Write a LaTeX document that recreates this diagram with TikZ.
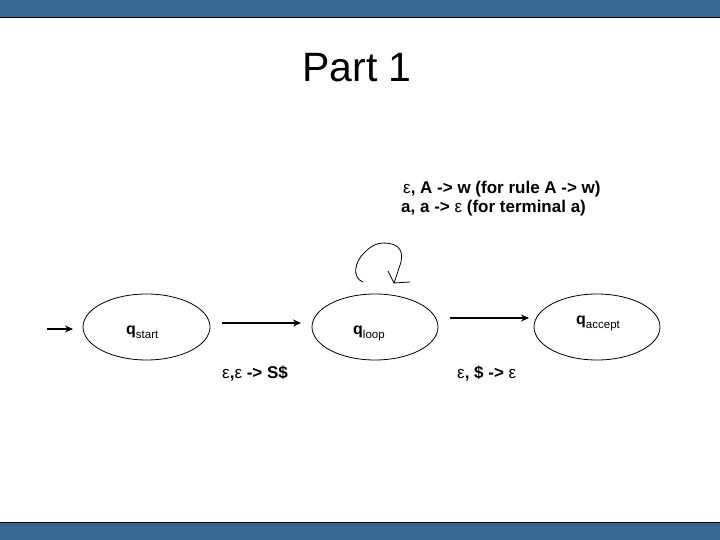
\documentclass[tikz,border=0pt]{standalone}
\usepackage{fontspec}
\setmainfont{Liberation Sans}
\usetikzlibrary{shapes.geometric,arrows.meta}
\definecolor{barblue}{RGB}{58,104,148}
\newcommand{\eps}{{\mdseries ε}}
\tikzset{
  bar/.style={fill=barblue,draw=black,line width=1pt},
  state/.style={draw=black,ellipse,line width=0.8pt,minimum width=#1,minimum height=66pt,inner sep=0pt},
  trans/.style={line width=1.8pt,-{Stealth[length=8pt,width=7pt]}},
  lbl/.style={font=\fontsize{17}{20}\selectfont\bfseries,inner sep=0pt},
  qlbl/.style={font=\fontsize{16}{19}\selectfont\bfseries,inner sep=0pt,anchor=base west}
}
\newcommand{\sub}[1]{\raisebox{-4pt}{\fontsize{11.5}{14}\selectfont\mdseries #1}}
\begin{document}
\begin{tikzpicture}[x=1pt,y=-1pt]
\useasboundingbox (0,0) rectangle (720,540);
\fill[white] (0,0) rectangle (720,540);
% bars
\draw[bar] (-1,-1) rectangle (721,18);
\draw[bar] (-1,522) rectangle (721,541);
% title
\node[font=\fontsize{41}{46}\selectfont,inner sep=0pt] (title) at (357,68) {Part 1};
% states
\node[state=127pt] (qs) at (146.5,327) {};
\node[state=126pt] (ql) at (375,327) {};
\node[state=126pt] (qa) at (597,327) {};
\node[qlbl] (qst) at (126,334) {q\sub{start}};
\node[qlbl] (qlt) at (353,334) {q\sub{loop}};
\node[qlbl] (qat) at (576,324) {q\sub{accept}};
% arrows
\coordinate (in0) at (47,329);
\coordinate (in1) at (73,329);
\draw[trans] (in0) -- (in1);
\coordinate (a0) at (222,323);
\coordinate (a1) at (301,323);
\draw[trans] (a0) -- (a1);
\coordinate (b0) at (450,318);
\coordinate (b1) at (529,318);
\draw[trans] (b0) -- (b1);
% self loop
\coordinate (l0) at (363,282);
\coordinate (l1) at (394,283);
\coordinate (l2) at (410,282);
\draw[line width=0.8pt] (l0) .. controls (352,278) and (354,262) .. (365,252)
  .. controls (372,245) and (378,243) .. (383,243)
  .. controls (396,243) and (404,248) .. (401,262) -- (l1) -- (l2);
\draw[line width=0.8pt] (388,271) -- (l1);
% labels
\node[lbl,anchor=west] (t1) at (403,189) {\eps, A -> w (for rule A -> w)};
\node[lbl,anchor=west] (t2) at (401,208) {a, a -> \eps{} (for terminal a)};
\node[lbl,anchor=west] (t3) at (222,374) {\eps,\eps{} -> S\$};
\node[lbl,anchor=west] (t4) at (457,374) {\eps, \$ -> \eps};
\end{tikzpicture}
\end{document}
